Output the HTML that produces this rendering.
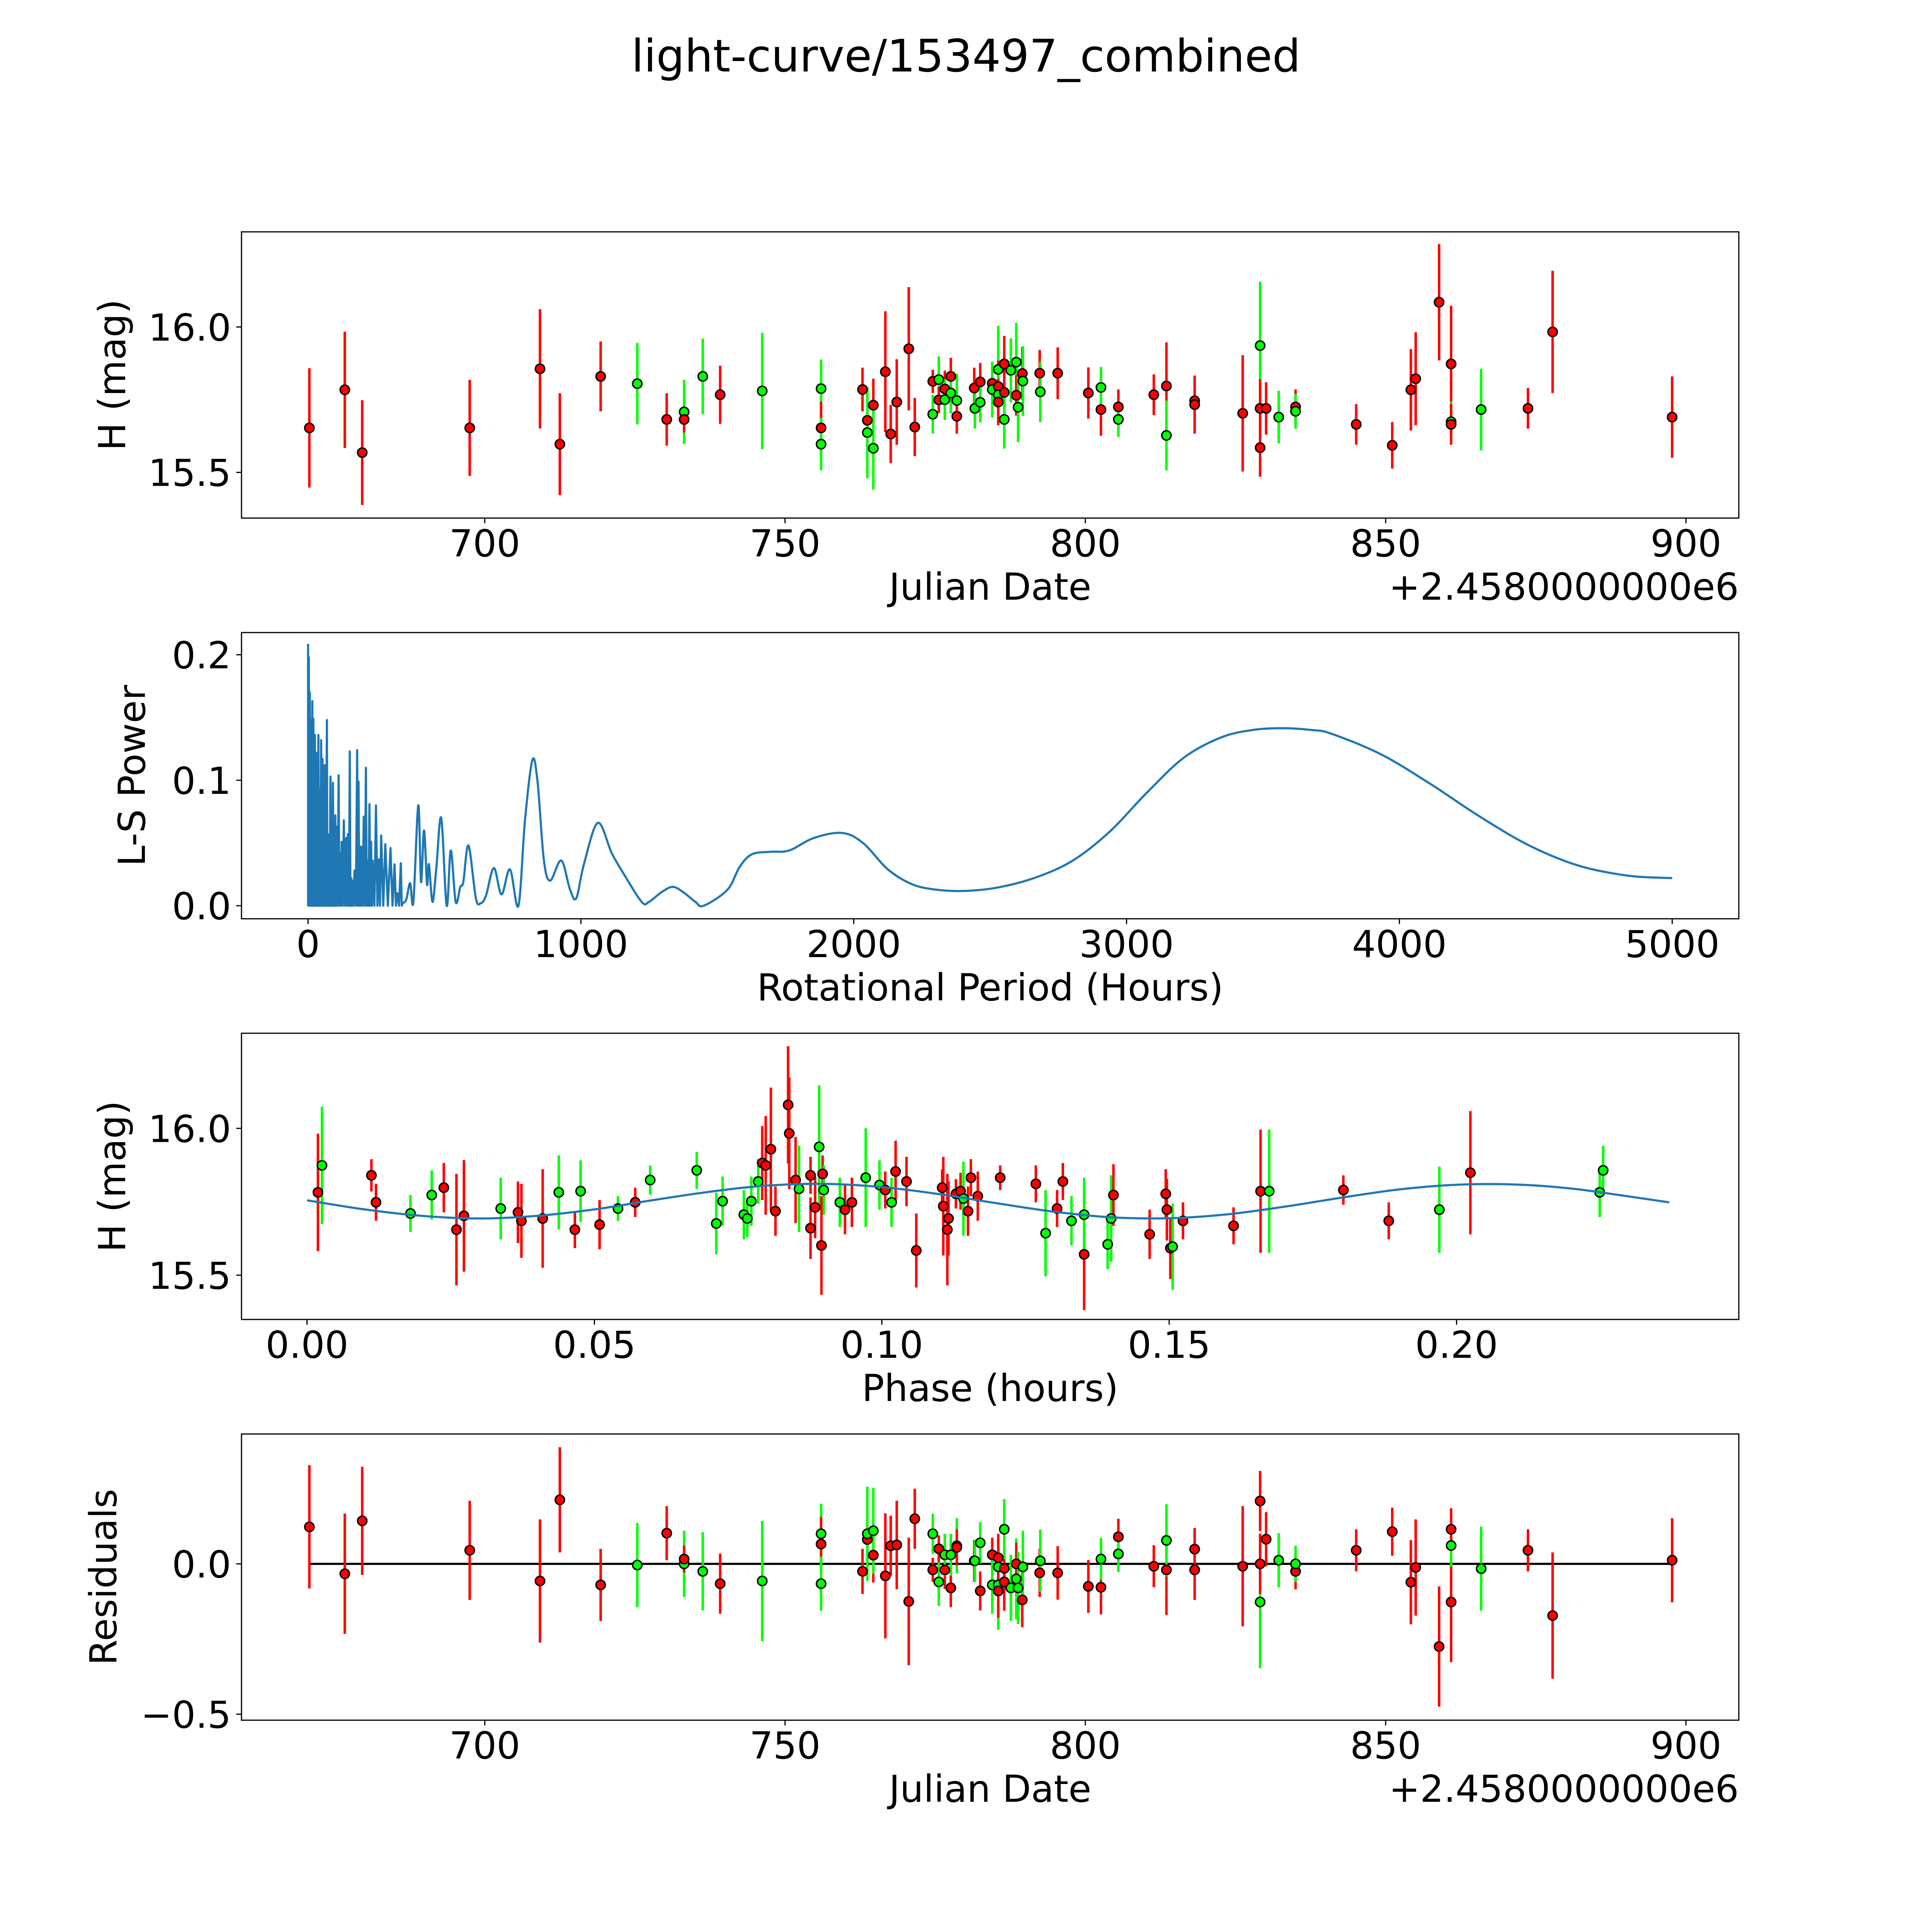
<!DOCTYPE html>
<html><head><meta charset="utf-8"><title>light-curve/153497_combined</title>
<style>html,body{margin:0;padding:0;background:#fff;width:100%;height:100%;overflow:hidden}svg{display:block;width:100vw;height:100vh}text{font-family:"DejaVu Sans","Liberation Sans",sans-serif;fill:#000}</style>
</head><body>
<svg id="fig" xmlns="http://www.w3.org/2000/svg" viewBox="0 0 5400 5400" preserveAspectRatio="none">
<rect width="5400" height="5400" fill="#fff"/>
<text x="2700" y="200" font-size="125" text-anchor="middle">light-curve/153497_combined</text>
</svg>
<script>
// ---- Panel 1 / 4 data (Julian date offset from 2458000) ----
const days = [670.8,676.7,679.6,697.5,709.2,712.5,719.3,725.4,730.3,733.2,733.2,736.3,739.2,746.2,756.0,756.0,756.0,
762.9,763.7,763.7,764.7,764.7,766.7,767.6,768.6,770.6,771.6,774.6,774.6,775.6,775.6,776.6,776.6,777.6,777.6,778.6,778.6,781.5,782.5,781.6,782.5,784.5,784.5,785.5,785.5,785.5,785.5,786.5,786.5,786.5,787.6,788.5,788.5,788.8,789.5,789.6,792.4,792.5,795.4,800.5,
802.6,802.6,805.5,805.5,811.4,813.5,813.5,818.2,818.2,826.2,829.1,829.1,829.1,830.1,832.2,835.0,835.0,845.1,851.1,854.2,855.0,858.9,860.9,860.9,860.9,865.9,873.7,877.8,897.7];
const mags = [15.653,15.784,15.568,15.653,15.856,15.597,15.83,15.805,15.682,15.708,15.682,15.83,15.767,15.78,15.788,15.653,15.597,
15.785,15.679,15.637,15.731,15.583,15.846,15.632,15.742,15.925,15.656,15.813,15.70,15.819,15.749,15.787,15.75,15.83,15.773,15.747,15.693,15.79,15.811,15.72,15.741,15.806,15.785,15.854,15.795,15.767,15.742,15.873,15.775,15.682,15.851,15.879,15.765,15.724,15.84,15.814,15.841,15.777,15.841,15.773,
15.716,15.792,15.725,15.682,15.767,15.797,15.627,15.746,15.733,15.703,15.936,15.72,15.585,15.72,15.69,15.725,15.71,15.665,15.593,15.784,15.822,16.085,15.873,15.674,15.665,15.716,15.72,15.983,15.69];
const errs = [0.205,0.2,0.18,0.165,0.205,0.175,0.12,0.14,0.09,0.11,0.045,0.13,0.1,0.2,0.1,0.09,0.09,
0.075,0.09,0.157,0.091,0.143,0.208,0.1,0.147,0.212,0.1,0.04,0.067,0.08,0.045,0.063,0.07,0.064,0.07,0.092,0.06,0.07,0.065,0.07,0.069,0.057,0.096,0.15,0.09,0.09,0.08,0.096,0.07,0.1,0.11,0.135,0.07,0.12,0.091,0.12,0.08,0.104,0.089,0.088,
0.09,0.07,0.06,0.06,0.07,0.15,0.12,0.07,0.1,0.2,0.22,0.1,0.1,0.09,0.09,0.06,0.06,0.07,0.08,0.14,0.16,0.2,0.2,0.07,0.07,0.14,0.07,0.21,0.14];
const bands = "RRRRRRRGRGRGRGGRGRRGRGRRRRRRGGRRGRGGRRRGGRGGRGRRRGGGRGRGRGRRRGRGRRGRRRGRRRGRGRRRRRRGRGRRRR".split("");
const resid = [0.123,-0.033,0.143,0.045,-0.057,0.213,-0.07,-0.004,0.102,0,0.016,-0.025,-0.066,-0.057,0.10,0.066,-0.066,
-0.025,0.081,0.10,0.029,0.11,-0.04,0.06,0.063,-0.125,0.15,-0.02,0.1,-0.06,0.05,-0.02,0.03,-0.08,0.03,0.06,0.055,0.01,-0.09,0.01,0.07,0.03,-0.07,-0.07,-0.09,-0.01,0.02,-0.06,-0.015,0.115,-0.08,-0.05,0.0,-0.08,-0.12,-0.01,-0.03,0.01,-0.03,-0.075,
-0.078,0.016,0.09,0.033,-0.008,-0.02,0.078,0.049,-0.02,-0.008,-0.127,0,0.209,0.082,0.012,-0.025,0,0.045,0.107,-0.061,-0.012,-0.275,-0.127,0.061,0.115,-0.016,0.045,-0.172,0.012];

// ---- Panel 2: Lomb-Scargle periodogram ----
const spikePeriods = [0,2.8,6.5,12,15.7,19.4,24.9,29.5,34.1,37.8,42.4,47.9,53,57,61,69,73,77,82,88,91,96,100,105,112,117,123,131,140,146,153,158,163,170,180,185,191,196,204,212,218,225,231,237,249,259,268,283,302,317,327,340];
const spikePowers = [0.208,0.198,0.170,0.148,0.163,0.149,0.136,0.122,0.096,0.136,0.093,0.132,0.117,0.091,0.112,0.148,0.057,0.056,0.103,0.053,0.098,0.048,0.072,0.063,0.104,0.042,0.051,0.068,0.054,0.057,0.123,0.022,0.020,0.028,0.124,0.099,0.047,0.047,0.071,0.110,0.036,0.081,0.051,0.036,0.080,0.037,0.056,0.049,0.046,0.033,0.010,0.034];
const smoothPeriods = [347,360,374,386,404,414,425,436,443,456,470,488,508,523,541,558,569,588,615,633,652,681,709,740,771,795,822,841,864,887,928,960,983,1011,1062,1113,1158,1223,1249,1297,1338,1380,1420,1450,1537,1582,1627,1695,1763,1854,1957,2034,2125,2215,2306,2410,2532,2667,2803,2938,3074,3210,3345,3460,3571,3680,3752,3933,4114,4295,4476,4656,4837,5000];
const smoothPowers = [0.002,0.005,0.018,0.003,0.080,0.019,0.060,0.017,0.033,0.003,0.030,0.070,0.0,0.044,0.003,0.015,0.019,0.048,0.006,0.002,0.008,0.030,0.009,0.029,0.0,0.068,0.116,0.099,0.037,0.020,0.036,0.013,0.006,0.033,0.066,0.042,0.025,0.003,0.003,0.011,0.015,0.010,0.003,0.0,0.0127,0.031,0.041,0.043,0.044,0.054,0.058,0.050,0.029,0.017,0.0127,0.0118,0.0147,0.0225,0.036,0.059,0.090,0.118,0.134,0.140,0.1415,0.140,0.137,0.1206,0.097,0.071,0.048,0.032,0.024,0.022];

// ---- Panel 3: phase-folded data + model ----
const phases = [0.0019,0.0026,0.0112,0.0120,0.0180,0.0217,0.0238,0.0260,0.0273,0.0337,0.0367,0.0373,0.0410,0.0438,0.0466,0.0476,0.0509,0.0541,0.0571,0.0597,0.0678,0.0712,0.0723,0.0760,0.0766,0.0773,0.0785,0.0792,0.0798,0.0807,0.0815,0.0837,0.0839,0.0850,0.0856,0.0876,0.0876,0.0884,0.0891,0.0897,0.0899,0.0895,0.0927,0.0936,0.0948,0.0972,0.0996,0.1006,0.1017,0.1024,0.1043,0.1060,0.1105,0.1107,0.1114,0.1116,0.1129,0.1137,0.1142,0.1150,0.1155,0.1167,0.1206,0.1268,0.1285,0.1305,0.1315,0.1330,0.1352,0.1352,0.1393,0.1399,0.1403,0.1466,0.1494,0.1496,0.1502,0.1506,0.1524,0.1612,0.1659,0.1674,0.1803,0.1882,0.1970,0.2024,0.2249,0.2255];
const phaseMags = [15.782,15.874,15.840,15.748,15.710,15.773,15.798,15.655,15.702,15.727,15.714,15.685,15.693,15.782,15.655,15.786,15.672,15.727,15.748,15.824,15.857,15.676,15.752,15.706,15.693,15.752,15.819,15.882,15.874,15.929,15.718,16.080,15.983,15.824,15.794,15.840,15.660,15.731,15.937,15.845,15.790,15.601,15.748,15.723,15.748,15.832,15.807,15.790,15.748,15.853,15.819,15.584,15.798,15.735,15.655,15.693,15.777,15.786,15.761,15.718,15.832,15.769,15.832,15.811,15.643,15.727,15.819,15.685,15.571,15.706,15.605,15.693,15.773,15.639,15.777,15.723,15.592,15.597,15.685,15.668,15.786,15.786,15.790,15.685,15.723,15.849,15.782,15.857];
const phaseErrs = [0.2,0.2,0.055,0.063,0.063,0.084,0.084,0.19,0.19,0.105,0.105,0.126,0.168,0.126,0.063,0.105,0.084,0.042,0.05,0.05,0.063,0.105,0.084,0.084,0.063,0.084,0.076,0.126,0.168,0.21,0.084,0.2,0.19,0.147,0.147,0.063,0.105,0.105,0.21,0.063,0.084,0.168,0.084,0.084,0.084,0.168,0.084,0.063,0.084,0.105,0.084,0.126,0.063,0.168,0.19,0.126,0.05,0.063,0.126,0.084,0.063,0.084,0.042,0.063,0.147,0.063,0.063,0.084,0.19,0.126,0.084,0.147,0.105,0.084,0.084,0.105,0.105,0.147,0.063,0.063,0.21,0.21,0.05,0.063,0.147,0.21,0.084,0.084];
const phaseBands = "RGRRGGRRRGRRRGRGRGRGGGGGGGGRRRRRRRGRRRGRGRGRRGGRGRRRRRRRRRGRRRRRGRRGRGGGRRRRRGRRRGRRGRGG".split("");
const modelPhase = [0,0.01,0.02,0.03,0.04,0.05,0.06,0.07,0.08,0.09,0.10,0.11,0.12,0.13,0.14,0.15,0.16,0.17,0.18,0.19,0.20,0.21,0.22,0.23,0.237];
const modelMag = [15.755,15.724,15.702,15.693,15.702,15.724,15.755,15.784,15.805,15.811,15.800,15.776,15.745,15.716,15.697,15.694,15.707,15.733,15.764,15.792,15.808,15.809,15.795,15.768,15.748];

// ---- Layout ----
const NS = "http://www.w3.org/2000/svg";
const svg = document.getElementById('fig');
const L = 675, R = 4860, FS = 104;
const COL = {R:'#ff0000', G:'#00ff00'};
function mk(tag, attrs, parent){ const e=document.createElementNS(NS,tag); for(const k in attrs) e.setAttribute(k,attrs[k]); (parent||svg).appendChild(e); return e; }
function makeAxis(top, bottom, x0, x1, y0, y1){
  return {top, bottom, x:v=>L+(v-x0)/(x1-x0)*(R-L), y:v=>bottom-(v-y0)/(y1-y0)*(bottom-top)};
}
const ax1 = makeAxis(648,1448,659.5,908.8,15.343,16.327);
const ax2 = makeAxis(1768,2568,-244,5244,-0.0104,0.2177);
const ax3 = makeAxis(2888,3688,-0.0114,0.2491,15.349,16.324);
const ax4 = makeAxis(4008,4808,659.5,908.8,-0.520,0.432);

function frame(ax, name, xticks, xlabels, yticks, ylabels, xtitle, ytitle, ytitleX, offset){
  const g = mk('g',{});
  
  
  const cp = mk('clipPath',{id:name+'-clip'},g);
  mk('rect',{x:L,y:ax.top,width:R-L,height:ax.bottom-ax.top},cp);
  const plot = mk('g',{'clip-path':'url(#'+name+'-clip)'},g);
  
  
  xticks.forEach((v,i)=>{
    const X = ax.x(v);
    mk('line',{x1:X,x2:X,y1:ax.bottom,y2:ax.bottom+14.6,stroke:'#000','stroke-width':3.3},g);
    const t = mk('text',{x:X,y:ax.bottom+107,'font-size':FS,'text-anchor':'middle'},g);
    
    
    t.textContent = xlabels[i];
  });
  yticks.forEach((v,i)=>{
    const Y = ax.y(v);
    mk('line',{x1:L-14.6,x2:L,y1:Y,y2:Y,stroke:'#000','stroke-width':3.3},g);
    const t = mk('text',{x:L-29,y:Y+38,'font-size':FS,'text-anchor':'end'},g);
    
    
    t.textContent = ylabels[i];
  });
  const xt = mk('text',{x:(L+R)/2,y:ax.bottom+228,'font-size':FS,'text-anchor':'middle'},g);
  
  
  xt.textContent = xtitle;
  const cy = (ax.top+ax.bottom)/2;
  const yt = mk('text',{x:ytitleX,y:cy,'font-size':FS,'text-anchor':'middle',transform:'rotate(-90 '+ytitleX+' '+cy+')'},g);
  
  
  yt.textContent = ytitle;
  if(offset){
    const ot = mk('text',{x:R,y:ax.bottom+228,'font-size':FS,'text-anchor':'end'},g);
    
    
    ot.textContent = offset;
  }
  const border = mk('rect',{x:L,y:ax.top,width:R-L,height:ax.bottom-ax.top,fill:'none',stroke:'#000','stroke-width':3.3},g);
  
  
  return plot;
}
function errPoints(plot, ax, xs, ys, es, cs, label){
  const eg = mk('g',{},plot);
  xs.forEach((v,i)=>{
    const X=ax.x(v);
    const l = mk('line',{x1:X,x2:X,y1:ax.y(ys[i]-es[i]),y2:ax.y(ys[i]+es[i]),stroke:COL[cs[i]],'stroke-width':7},eg);
    
    
  });
  xs.forEach((v,i)=>{
    const c = mk('circle',{cx:ax.x(v),cy:ax.y(ys[i]),r:13,fill:COL[cs[i]],stroke:'#000','stroke-width':4},eg);
    
    
  });
}
function smoothPath(pts){
  let d = 'M'+pts[0][0].toFixed(1)+' '+pts[0][1].toFixed(1);
  for(let i=0;i<pts.length-1;i++){
    const p0=pts[Math.max(0,i-1)], p1=pts[i], p2=pts[i+1], p3=pts[Math.min(pts.length-1,i+2)];
    const c1x=p1[0]+(p2[0]-p0[0])/6, c1y=p1[1]+(p2[1]-p0[1])/6;
    const c2x=p2[0]-(p3[0]-p1[0])/6, c2y=p2[1]-(p3[1]-p1[1])/6;
    d += ' C'+c1x.toFixed(1)+' '+c1y.toFixed(1)+' '+c2x.toFixed(1)+' '+c2y.toFixed(1)+' '+p2[0].toFixed(1)+' '+p2[1].toFixed(1);
  }
  return d;
}

// Panel 1
const p1 = frame(ax1,'light-curve-panel',[700,750,800,850,900],['700','750','800','850','900'],[15.5,16.0],['15.5','16.0'],'Julian Date','H (mag)',350,'+2.4580000000e6');
errPoints(p1, ax1, days, mags, errs, bands, 'magnitude');

// Panel 2
const p2 = frame(ax2,'periodogram-panel',[0,1000,2000,3000,4000,5000],['0','1000','2000','3000','4000','5000'],[0,0.1,0.2],['0.0','0.1','0.2'],'Rotational Period (Hours)','L-S Power',405,null);
let sd = 'M'+ax2.x(0).toFixed(1)+' '+ax2.y(0).toFixed(1);
spikePeriods.forEach((p,i)=>{
  sd += ' L'+ax2.x(p).toFixed(1)+' '+ax2.y(spikePowers[i]).toFixed(1);
  const next = i<spikePeriods.length-1 ? spikePeriods[i+1] : smoothPeriods[0];
  sd += ' L'+ax2.x((p+next)/2).toFixed(1)+' '+ax2.y(0).toFixed(1);
});
sd += ' L'+ax2.x(smoothPeriods[0]).toFixed(1)+' '+ax2.y(smoothPowers[0]).toFixed(1);
const sl = mk('path',{d:sd,fill:'none',stroke:'#1f77b4','stroke-width':6,'stroke-linejoin':'round'},p2);


const spts = smoothPeriods.map((p,i)=>[ax2.x(p), ax2.y(smoothPowers[i])]);
const pl = mk('path',{d:smoothPath(spts),fill:'none',stroke:'#1f77b4','stroke-width':6,'stroke-linejoin':'round'},p2);



// Panel 3
const p3 = frame(ax3,'phase-panel',[0,0.05,0.10,0.15,0.20],['0.00','0.05','0.10','0.15','0.20'],[15.5,16.0],['15.5','16.0'],'Phase (hours)','H (mag)',350,null);
errPoints(p3, ax3, phases, phaseMags, phaseErrs, phaseBands, 'phase');
const mpts = modelPhase.map((p,i)=>[ax3.x(p), ax3.y(modelMag[i])]);
const ml = mk('path',{d:smoothPath(mpts),fill:'none',stroke:'#1f77b4','stroke-width':6},p3);



// Panel 4
const p4 = frame(ax4,'residuals-panel',[700,750,800,850,900],['700','750','800','850','900'],[-0.5,0.0],['\u22120.5','0.0'],'Julian Date','Residuals',325,'+2.4580000000e6');
const zl = mk('line',{x1:ax4.x(Math.min(...days)),x2:ax4.x(Math.max(...days)),y1:ax4.y(0),y2:ax4.y(0),stroke:'#000','stroke-width':6},p4);


errPoints(p4, ax4, days, resid, errs, bands, 'residual');
</script>
</body></html>
